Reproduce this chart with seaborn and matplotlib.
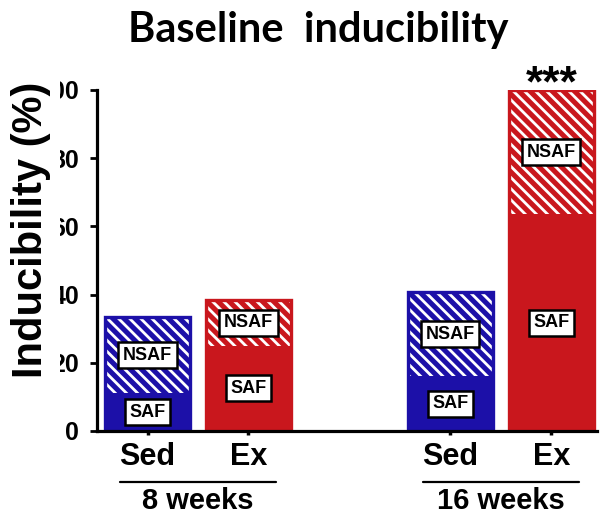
import matplotlib
matplotlib.use('Agg')
import matplotlib.pyplot as plt
import seaborn as sns
import pandas as pd

# ---- data ----
conditions = ['Sed', 'Ex', 'Sed', 'Ex']
periods = ['8 weeks', '8 weeks', '16 weeks', '16 weeks']
saf = [11.1, 25.0, 16.0, 63.6]          # solid (SAF) part, %
total = [33.3, 38.5, 40.8, 100.0]       # total inducibility (SAF + NSAF), %
significance = ['', '', '', '***']
yticks = [0, 20, 40, 60, 80, 100]
title = 'Baseline  inducibility'
ylabel = 'Inducibility (%)'

keys = [f'{p} {c}' for p, c in zip(periods, conditions)]
order = [keys[0], keys[1], 'gap', keys[2], keys[3]]
cond_colors = {'Sed': '#1c10a8', 'Ex': '#c9171d'}
palette = {k: cond_colors[c] for k, c in zip(keys, conditions)}
df = pd.DataFrame({'key': keys, 'cond': conditions, 'period': periods,
                   'saf': saf, 'total': total})

sns.set_theme(style='white')
plt.rcParams['font.family'] = ['Liberation Sans', 'DejaVu Sans']
plt.rcParams['hatch.linewidth'] = 2.0
plt.rcParams['text.color'] = 'black'
plt.rcParams['xtick.color'] = 'black'
plt.rcParams['ytick.color'] = 'black'
plt.rcParams['axes.labelcolor'] = 'black'

fig = plt.figure(figsize=(6, 5.2), dpi=100)
ax = fig.add_axes([0.1617, 0.1712, 0.833, 0.6558])

bw = 0.84
# hatched total bars (NSAF on top of SAF)
sns.barplot(data=df, x='key', y='total', hue='key', palette=palette, order=order,
            width=bw, ax=ax, legend=False, linewidth=0, edgecolor='white',
            hatch='\\\\\\', saturation=1)
# solid SAF portion
sns.barplot(data=df, x='key', y='saf', hue='key', palette=palette, order=order,
            width=bw, ax=ax, legend=False, linewidth=0, saturation=1)
# coloured outline around whole bar
sns.barplot(data=df, x='key', y='total', hue='key', palette=palette, order=order,
            width=bw, ax=ax, legend=False, fill=False, linewidth=2.4, saturation=1)

box = dict(boxstyle='square,pad=0.25', fc='white', ec='black', lw=1.8)
for i, k in enumerate(keys):
    xpos = order.index(k)
    ax.text(xpos, (saf[i] + total[i]) / 2, 'NSAF', ha='center', va='center',
            fontsize=13, fontweight='bold', bbox=box, zorder=6, color='black')
    ax.text(xpos, saf[i] / 2, 'SAF', ha='center', va='center',
            fontsize=13, fontweight='bold', bbox=box, zorder=6, color='black')
    if significance[i]:
        ax.text(xpos, total[i] - 2.0, significance[i], ha='center', va='baseline',
                fontsize=32, fontweight='bold', zorder=6, clip_on=False,
                color='black')

ax.set_xlim(-0.5, 4.45)
ax.set_ylim(0, 100)
ax.set_yticks(yticks)
ax.set_yticklabels([str(t) for t in yticks], fontsize=18, fontweight='bold')
ax.set_xticks([order.index(k) for k in keys])
ax.set_xticklabels(conditions, fontsize=22, fontweight='bold')
ax.set_xlabel('')
ax.set_ylabel('')
for s in ['top', 'right']:
    ax.spines[s].set_visible(False)
for s in ['left', 'bottom']:
    ax.spines[s].set_color('black')
    ax.spines[s].set_linewidth(2.3)
ax.tick_params(axis='y', left=True, length=5, width=2, pad=8, colors='black')
ax.tick_params(axis='x', bottom=True, length=3, width=2.5, pad=5, colors='black')

# group labels under the axis
trans = ax.get_xaxis_transform()
for p in dict.fromkeys(periods):
    xs = [order.index(k) for k, pp in zip(keys, periods) if pp == p]
    c = sum(xs) / len(xs)
    ax.plot([c - 0.77, c + 0.77], [-0.15, -0.15], color='black', lw=1.6,
            transform=trans, clip_on=False)
    ax.text(c, -0.205, p, transform=trans, ha='center', va='center',
            fontsize=21, fontweight='bold', color='black')

fig.text(0.53, 0.942, title, ha='center', va='center', fontsize=30,
         fontweight='bold', family=['Lato', 'DejaVu Sans'], color='black')
fig.text(0.052, 0.558, ylabel, rotation=90, ha='center', va='center', fontsize=30,
         fontweight='bold', zorder=10, color='black',
         bbox=dict(boxstyle='square,pad=0.2', fc='white', ec='none'))

fig.savefig('out.png', dpi=100)
